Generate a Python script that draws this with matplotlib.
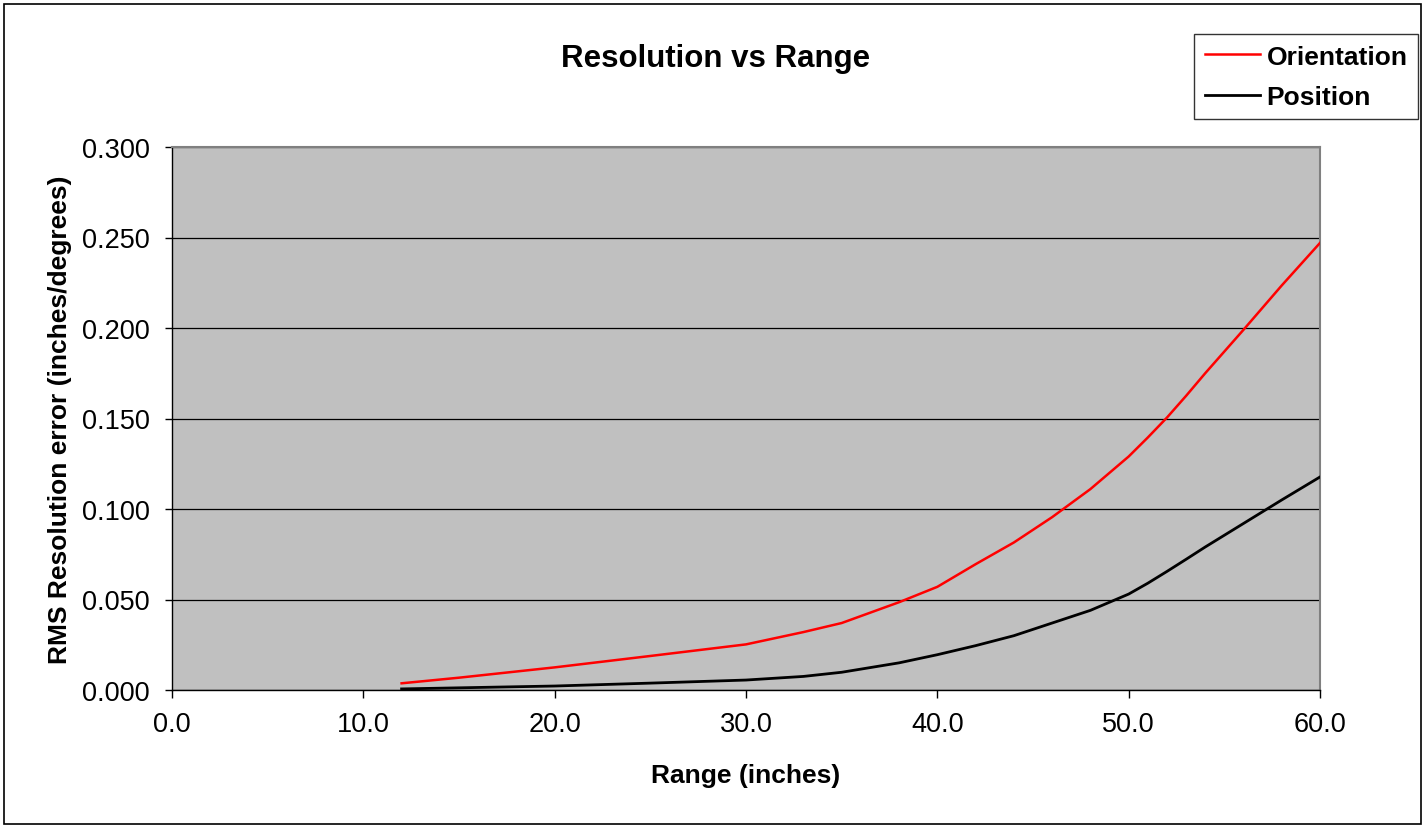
import matplotlib
matplotlib.use("Agg")
import matplotlib.pyplot as plt
from matplotlib.patches import Rectangle
from matplotlib.lines import Line2D

plt.rcParams['font.family'] = ['Liberation Sans', 'DejaVu Sans']

range_in = [12, 15, 20, 25, 30, 33, 35, 38, 40, 42, 44, 46, 48, 50, 51, 52, 53, 54, 56, 58, 60]
orientation = [0.0037, 0.0068, 0.0125, 0.0188, 0.0252, 0.0320, 0.0370, 0.0485, 0.0570,
               0.0695, 0.0815, 0.0955, 0.1110, 0.1290, 0.1395, 0.1505, 0.1625, 0.1750,
               0.1990, 0.2235, 0.2470]
position = [0.0006, 0.0012, 0.0022, 0.0038, 0.0055, 0.0075, 0.0098, 0.0150, 0.0195,
            0.0245, 0.0300, 0.0370, 0.0440, 0.0530, 0.0590, 0.0655, 0.0722, 0.0790,
            0.0920, 0.1050, 0.1177]

x_ticks = [0, 10, 20, 30, 40, 50, 60]
y_ticks = [0.0, 0.05, 0.10, 0.15, 0.20, 0.25, 0.30]

W, H = 1426, 829
fig = plt.figure(figsize=(W / 100, H / 100), dpi=100)
fig.patch.set_facecolor('white')

ax = fig.add_axes([172 / W, 1 - 691 / H, (1320 - 172) / W, (691 - 148) / H])
ax.set_facecolor('#C0C0C0')

ax.plot(range_in, orientation, color='#FF0000', lw=1.8, solid_joinstyle='round', zorder=3)
ax.plot(range_in, position, color='black', lw=2.0, solid_joinstyle='round', zorder=3)

ax.set_xlim(0, 60)
ax.set_ylim(0, 0.30)
ax.set_xticks(x_ticks)
ax.set_xticklabels([f"{v:.1f}" for v in x_ticks])
ax.set_yticks(y_ticks)
ax.set_yticklabels([f"{v:.3f}" for v in y_ticks])
ax.yaxis.grid(True, color='black', lw=0.9, zorder=1)
ax.set_axisbelow(True)

for s in ['top', 'right']:
    ax.spines[s].set_color('#808080')
    ax.spines[s].set_linewidth(1.5)
for s in ['left', 'bottom']:
    ax.spines[s].set_color('black')
    ax.spines[s].set_linewidth(1.0)

ax.tick_params(axis='both', direction='out', labelsize=19.5, colors='black', width=1)
ax.tick_params(axis='y', length=5, pad=11)
ax.tick_params(axis='x', length=6, pad=9)

ax.set_xlabel("Range (inches)", fontsize=19, fontweight='bold', labelpad=19)
ax.set_ylabel("RMS Resolution error (inches/degrees)", fontsize=19, fontweight='bold', labelpad=7)

fig.text(716 / W, 1 - 59 / H, "Resolution vs Range", fontsize=22.5, fontweight='bold',
         ha='center', va='center')

handles = [Line2D([0], [0], color='#FF0000', lw=1.8),
           Line2D([0], [0], color='black', lw=2.0)]
leg = fig.legend(handles, ["Orientation", "Position"], loc='upper left',
                 bbox_to_anchor=(1194 / W, 1 - 35 / H), frameon=True, fancybox=False,
                 prop={'weight': 'bold', 'size': 19}, handlelength=2.1, handletextpad=0.25,
                 borderpad=0.4, labelspacing=0.62, borderaxespad=0)
leg.get_frame().set_edgecolor('black')
leg.get_frame().set_linewidth(1.0)

fig.patches.append(Rectangle((4 / W, 4 / H), (W - 9) / W, (H - 9) / H, transform=fig.transFigure,
                             fill=False, edgecolor='black', lw=1.2))

fig.savefig("out.png", dpi=100)
